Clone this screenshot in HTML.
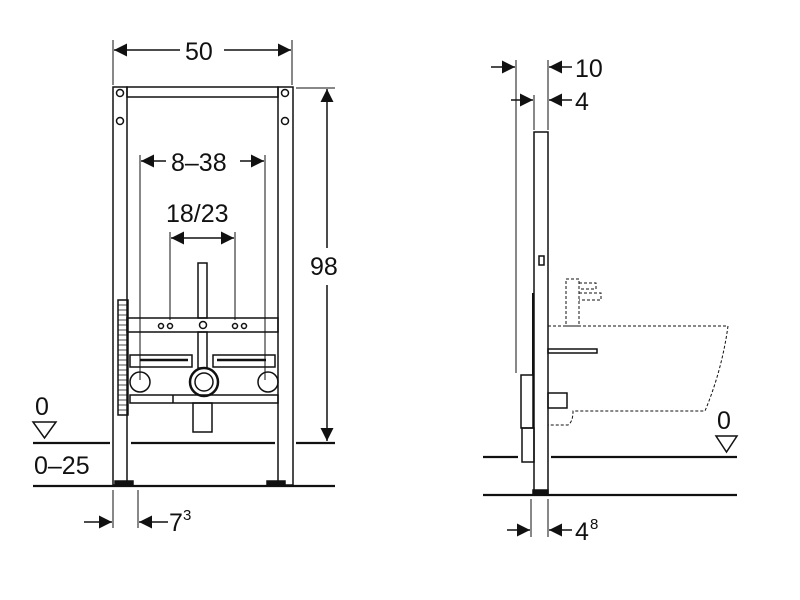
<!DOCTYPE html>
<html><head><meta charset="utf-8"><style>
html,body{margin:0;padding:0;background:#fff;}
svg{display:block;}
text{font-family:"Liberation Sans",sans-serif;fill:#111;}
</style></head><body>
<svg width="800" height="600" viewBox="0 0 800 600" xmlns="http://www.w3.org/2000/svg">
<defs>
<marker id="b" viewBox="0 0 10 10" refX="10" refY="5" markerWidth="16" markerHeight="13" orient="auto-start-reverse" markerUnits="userSpaceOnUse"><path d="M0,0 L10,5 L0,10 z" fill="#111"/></marker>
</defs>
<g stroke="#111" fill="none" stroke-width="1.5">
<line x1="33" y1="443" x2="110" y2="443" stroke-width="2.2"/>
<line x1="131" y1="443" x2="275" y2="443" stroke-width="2.2"/>
<line x1="296" y1="443" x2="335" y2="443" stroke-width="2.2"/>
<line x1="33" y1="486" x2="335" y2="486" stroke-width="2.2"/>
<rect x="113" y="87" width="14" height="398"/>
<rect x="278" y="87" width="15" height="398"/>
<rect x="127" y="87" width="151" height="10"/>
<circle cx="120" cy="93" r="3.5"/><circle cx="120" cy="121" r="3.5"/>
<circle cx="285" cy="93" r="3.5"/><circle cx="285" cy="121" r="3.5"/>
<rect x="115" y="481" width="18" height="4" fill="#111"/>
<rect x="267" y="481" width="18" height="4" fill="#111"/>
<rect x="118" y="300" width="10" height="115"/>
<path d="M118,305h10M118,310h10M118,315h10M118,320h10M118,325h10M118,330h10M118,335h10M118,340h10M118,345h10M118,350h10M118,355h10M118,360h10M118,365h10M118,370h10M118,375h10M118,380h10M118,385h10M118,390h10M118,395h10M118,400h10M118,405h10M118,410h10" stroke-width="0.7"/>
<rect x="198" y="263" width="9" height="55"/>
<rect x="127" y="318" width="151" height="14"/>
<circle cx="161" cy="326" r="2.5"/><circle cx="170" cy="326" r="2.5"/>
<circle cx="235" cy="326" r="2.5"/><circle cx="244" cy="326" r="2.5"/>
<circle cx="203" cy="325" r="3.5"/>
<rect x="198" y="332" width="9" height="36"/>
<rect x="130" y="355" width="62" height="12"/>
<rect x="213" y="355" width="62" height="12"/>
<line x1="140" y1="360" x2="188" y2="360" stroke-width="2.5"/>
<line x1="217" y1="360" x2="266" y2="360" stroke-width="2.5"/>
<circle cx="140" cy="382" r="10"/><circle cx="268" cy="382" r="10"/>
<circle cx="204" cy="382" r="14" stroke-width="2.5"/>
<circle cx="204" cy="382" r="9"/>
<rect x="130" y="395" width="148" height="8"/>
<line x1="173" y1="395" x2="173" y2="403"/>
<rect x="193" y="403" width="19" height="29"/>
<line x1="113" y1="40" x2="113" y2="85" stroke-width="1"/>
<line x1="292" y1="40" x2="292" y2="85" stroke-width="1"/>
<line x1="114" y1="50" x2="180" y2="50" marker-start="url(#b)"/>
<line x1="224" y1="50" x2="291" y2="50" marker-end="url(#b)"/>
<line x1="296" y1="88" x2="335" y2="88" stroke-width="1"/>
<line x1="327" y1="89" x2="327" y2="248" marker-start="url(#b)"/>
<line x1="327" y1="285" x2="327" y2="441" marker-end="url(#b)"/>
<line x1="140" y1="155" x2="140" y2="380" stroke-width="1"/>
<line x1="265" y1="155" x2="265" y2="380" stroke-width="1"/>
<line x1="141" y1="161" x2="166" y2="161" marker-start="url(#b)"/>
<line x1="240" y1="161" x2="264" y2="161" marker-end="url(#b)"/>
<line x1="170" y1="232" x2="170" y2="320" stroke-width="1"/>
<line x1="235" y1="232" x2="235" y2="320" stroke-width="1"/>
<line x1="171" y1="238" x2="234" y2="238" marker-start="url(#b)" marker-end="url(#b)"/>
<line x1="113" y1="490" x2="113" y2="528" stroke-width="1"/>
<line x1="138" y1="490" x2="138" y2="528" stroke-width="1"/>
<line x1="84" y1="522" x2="112" y2="522" marker-end="url(#b)"/>
<line x1="168" y1="522" x2="139" y2="522" marker-end="url(#b)"/>
<path d="M33,422 L56,422 L44.5,438 z"/>

<line x1="483" y1="457" x2="518" y2="457" stroke-width="2.2"/>
<line x1="551" y1="457" x2="737" y2="457" stroke-width="2.2"/>
<line x1="483" y1="495" x2="737" y2="495" stroke-width="2.2"/>
<rect x="534" y="132" width="14" height="362"/>
<rect x="533" y="490" width="15" height="5" fill="#111"/>
<rect x="539" y="256" width="5" height="9"/>
<line x1="516" y1="60" x2="516" y2="373" stroke-width="1"/>
<line x1="548" y1="60" x2="548" y2="130" stroke-width="1"/>
<line x1="534" y1="95" x2="534" y2="130" stroke-width="1"/>
<line x1="491" y1="67" x2="515" y2="67" marker-end="url(#b)"/>
<line x1="572" y1="67" x2="549" y2="67" marker-end="url(#b)"/>
<line x1="511" y1="100" x2="533" y2="100" marker-end="url(#b)"/>
<line x1="572" y1="100" x2="549" y2="100" marker-end="url(#b)"/>
<line x1="531" y1="499" x2="531" y2="537" stroke-width="1"/>
<line x1="548" y1="499" x2="548" y2="537" stroke-width="1"/>
<line x1="507" y1="530" x2="530" y2="530" marker-end="url(#b)"/>
<line x1="572" y1="530" x2="549" y2="530" marker-end="url(#b)"/>
<line x1="533" y1="293" x2="533" y2="375" stroke-width="2"/>
<rect x="521" y="375" width="12" height="53"/>
<rect x="522" y="428" width="12" height="34"/>
<rect x="548" y="393" width="19" height="15"/>
<rect x="548" y="349" width="49" height="4"/>
<g stroke-dasharray="3,2" stroke-width="1">
<path d="M548,326 L728,326 Q722,370 705,411 L573,411 Q573,422 568,425 L548,425"/>
<rect x="566" y="279" width="13" height="47"/>
<path d="M579,283 h17 v6 h-17 M579,293 h22 v7 h-22"/>
</g>
<path d="M716,436 L737,436 L726.5,452 z"/>
</g>
<g font-size="25">
<text x="185" y="60">50</text>
<text x="171" y="171">8–38</text>
<text x="166" y="222">18/23</text>
<text x="310" y="275">98</text>
<text x="35" y="415">0</text>
<text x="34" y="474">0–25</text>
<text x="169" y="531">7</text><text x="183" y="520" font-size="15">3</text>
<text x="575" y="77">10</text>
<text x="575" y="110">4</text>
<text x="717" y="429">0</text>
<text x="575" y="540">4</text><text x="590" y="529" font-size="15">8</text>
</g>
</svg>
</body></html>
